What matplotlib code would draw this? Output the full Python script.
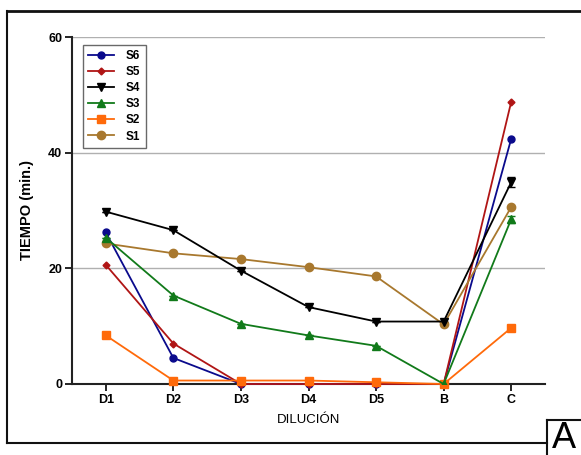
import matplotlib
matplotlib.use("Agg")
import matplotlib.pyplot as plt
from matplotlib.lines import Line2D

categories = ["D1", "D2", "D3", "D4", "D5", "B", "C"]
s6 = [26.2, 4.5, 0, 0, 0, 0, 42.4]
s5 = [20.6, 7.0, 0, 0, 0, 0, 48.8]
s4 = [29.8, 26.6, 19.6, 13.3, 10.8, 10.8, 34.9]
s3 = [25.3, 15.3, 10.4, 8.4, 6.6, 0, 28.5]
s2 = [8.4, 0.6, 0.6, 0.6, 0.3, 0, 9.7]
s1 = [24.3, 22.6, 21.6, 20.2, 18.6, 10.3, 30.6]
s4_err = [0, 0, 0, 0, 0, 0, 0.9]
s3_err = [0, 0, 0, 0, 0, 0, 0.6]
yticks = [0, 20, 40, 60]

plt.rcParams['font.family'] = ['Liberation Sans', 'DejaVu Sans']

fig = plt.figure(figsize=(5.81, 4.55), dpi=100)
ax = fig.add_axes([72/581, 1-384/455, (545-72)/581, (384-37)/455])

x = list(range(len(categories)))
series = [
    ("S6", s6, "#0a0a8c", "o", 5, None),
    ("S5", s5, "#b01515", "D", 3.5, None),
    ("S4", s4, "#000000", "v", 6, s4_err),
    ("S3", s3, "#117a1a", "^", 6, s3_err),
    ("S2", s2, "#ff6a0a", "s", 6, None),
    ("S1", s1, "#a8782e", "o", 6, None),
]
handles = []
for name, vals, col, mk, ms, err in series:
    if err is not None:
        ax.errorbar(x, vals, yerr=err, color=col, marker=mk, markersize=ms,
                    linewidth=1.3, capsize=3, elinewidth=1.3, zorder=3)
    else:
        ax.plot(x, vals, color=col, marker=mk, markersize=ms, linewidth=1.3,
                zorder=3, clip_on=False)
    handles.append(Line2D([], [], color=col, marker=mk, markersize=ms, linewidth=1.3, label=name))

ax.set_xlim(-0.5, 6.5)
ax.set_ylim(0, 60)
ax.set_yticks(yticks)
ax.set_xticks(x)
ax.set_xticklabels(categories, fontsize=9, fontweight='bold')
ax.set_yticklabels([str(v) for v in yticks], fontsize=9, fontweight='bold')
ax.yaxis.grid(True, color='#b0b0b0', linewidth=1)
ax.set_axisbelow(True)
for s in ['top', 'right']:
    ax.spines[s].set_visible(False)
for s in ['left', 'bottom']:
    ax.spines[s].set_linewidth(1.5)
    ax.spines[s].set_color('#222222')
ax.tick_params(direction='out', length=5, width=1.2, pad=2)
ax.set_ylabel("TIEMPO (min.)", fontsize=10.5, fontweight='bold', labelpad=10)
ax.set_xlabel("DILUCIÓN", fontsize=9.5, labelpad=6)

leg = ax.legend(handles=handles, loc='upper left', bbox_to_anchor=(0.01, 0.995), fontsize=8.5,
                frameon=True, fancybox=False, handlelength=2.2, labelspacing=0.35,
                borderpad=0.45, handletextpad=1.0)
leg.get_frame().set_edgecolor('#444444')
leg.get_frame().set_linewidth(1)
for t in leg.get_texts():
    t.set_fontweight('bold')

# outer frame
W, H = 581, 455
def fl(xs, ys, lw=1.5):
    fig.add_artist(Line2D([v/W for v in xs], [1-v/H for v in ys],
                          transform=fig.transFigure, color='#111111', linewidth=lw))
fl([7, 581], [11, 11], 2)
fl([7, 7], [11, 443])
fl([7, 547], [443, 443])
fl([547, 547], [420, 455])
fl([547, 581], [420, 420])
fig.text(564/W, 1-438/H, "A", fontsize=26, ha='center', va='center')

fig.savefig("out.png", dpi=100)
